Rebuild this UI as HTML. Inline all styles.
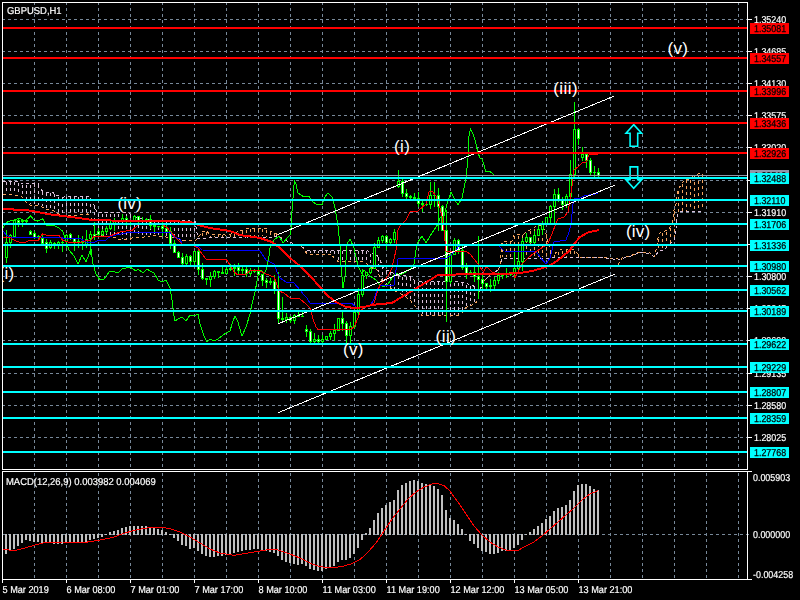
<!DOCTYPE html>
<html><head><meta charset="utf-8"><title>GBPUSD,H1</title>
<style>
html,body{margin:0;padding:0;background:#000;width:800px;height:600px;overflow:hidden}
svg{display:block}
text{font-family:"Liberation Sans",sans-serif;white-space:pre}
</style></head><body>
<svg width="800" height="600" viewBox="0 0 800 600">
<rect x="0" y="0" width="800" height="600" fill="#000"/>
<defs><clipPath id="cm"><rect x="3" y="3" width="744" height="466"/></clipPath></defs>
<g stroke="#778899" stroke-width="1" stroke-dasharray="3 3" shape-rendering="crispEdges">
<line x1="34.5" y1="2" x2="34.5" y2="469"/>
<line x1="34.5" y1="473" x2="34.5" y2="579"/>
<line x1="66.5" y1="2" x2="66.5" y2="469"/>
<line x1="66.5" y1="473" x2="66.5" y2="579"/>
<line x1="98.5" y1="2" x2="98.5" y2="469"/>
<line x1="98.5" y1="473" x2="98.5" y2="579"/>
<line x1="130.5" y1="2" x2="130.5" y2="469"/>
<line x1="130.5" y1="473" x2="130.5" y2="579"/>
<line x1="162.5" y1="2" x2="162.5" y2="469"/>
<line x1="162.5" y1="473" x2="162.5" y2="579"/>
<line x1="194.5" y1="2" x2="194.5" y2="469"/>
<line x1="194.5" y1="473" x2="194.5" y2="579"/>
<line x1="226.5" y1="2" x2="226.5" y2="469"/>
<line x1="226.5" y1="473" x2="226.5" y2="579"/>
<line x1="258.5" y1="2" x2="258.5" y2="469"/>
<line x1="258.5" y1="473" x2="258.5" y2="579"/>
<line x1="290.5" y1="2" x2="290.5" y2="469"/>
<line x1="290.5" y1="473" x2="290.5" y2="579"/>
<line x1="322.5" y1="2" x2="322.5" y2="469"/>
<line x1="322.5" y1="473" x2="322.5" y2="579"/>
<line x1="354.5" y1="2" x2="354.5" y2="469"/>
<line x1="354.5" y1="473" x2="354.5" y2="579"/>
<line x1="386.5" y1="2" x2="386.5" y2="469"/>
<line x1="386.5" y1="473" x2="386.5" y2="579"/>
<line x1="418.5" y1="2" x2="418.5" y2="469"/>
<line x1="418.5" y1="473" x2="418.5" y2="579"/>
<line x1="450.5" y1="2" x2="450.5" y2="469"/>
<line x1="450.5" y1="473" x2="450.5" y2="579"/>
<line x1="482.5" y1="2" x2="482.5" y2="469"/>
<line x1="482.5" y1="473" x2="482.5" y2="579"/>
<line x1="514.5" y1="2" x2="514.5" y2="469"/>
<line x1="514.5" y1="473" x2="514.5" y2="579"/>
<line x1="546.5" y1="2" x2="546.5" y2="469"/>
<line x1="546.5" y1="473" x2="546.5" y2="579"/>
<line x1="578.5" y1="2" x2="578.5" y2="469"/>
<line x1="578.5" y1="473" x2="578.5" y2="579"/>
<line x1="610.5" y1="2" x2="610.5" y2="469"/>
<line x1="610.5" y1="473" x2="610.5" y2="579"/>
<line x1="642.5" y1="2" x2="642.5" y2="469"/>
<line x1="642.5" y1="473" x2="642.5" y2="579"/>
<line x1="674.5" y1="2" x2="674.5" y2="469"/>
<line x1="674.5" y1="473" x2="674.5" y2="579"/>
<line x1="706.5" y1="2" x2="706.5" y2="469"/>
<line x1="706.5" y1="473" x2="706.5" y2="579"/>
<line x1="738.5" y1="2" x2="738.5" y2="469"/>
<line x1="738.5" y1="473" x2="738.5" y2="579"/>
<line x1="2" y1="19.5" x2="750" y2="19.5"/>
<line x1="2" y1="51.5" x2="750" y2="51.5"/>
<line x1="2" y1="83.5" x2="750" y2="83.5"/>
<line x1="2" y1="115.5" x2="750" y2="115.5"/>
<line x1="2" y1="147.5" x2="750" y2="147.5"/>
<line x1="2" y1="180.5" x2="750" y2="180.5"/>
<line x1="2" y1="212.5" x2="750" y2="212.5"/>
<line x1="2" y1="244.5" x2="750" y2="244.5"/>
<line x1="2" y1="276.5" x2="750" y2="276.5"/>
<line x1="2" y1="308.5" x2="750" y2="308.5"/>
<line x1="2" y1="340.5" x2="750" y2="340.5"/>
<line x1="2" y1="373.5" x2="750" y2="373.5"/>
<line x1="2" y1="405.5" x2="750" y2="405.5"/>
<line x1="2" y1="437.5" x2="750" y2="437.5"/>
<line x1="2" y1="534.5" x2="750" y2="534.5"/>
</g>
<g stroke-width="1" stroke-dasharray="3 3" shape-rendering="crispEdges">
<line x1="6.5" y1="182.0" x2="6.5" y2="193.4" stroke="#d8bfd8"/>
<line x1="10.5" y1="182.0" x2="10.5" y2="193.4" stroke="#d8bfd8"/>
<line x1="14.5" y1="182.0" x2="14.5" y2="194.1" stroke="#d8bfd8"/>
<line x1="18.5" y1="182.5" x2="18.5" y2="194.8" stroke="#d8bfd8"/>
<line x1="22.5" y1="184.7" x2="22.5" y2="195.7" stroke="#d8bfd8"/>
<line x1="26.5" y1="184.7" x2="26.5" y2="201.1" stroke="#d8bfd8"/>
<line x1="30.5" y1="184.5" x2="30.5" y2="203.9" stroke="#d8bfd8"/>
<line x1="34.5" y1="184.3" x2="34.5" y2="204.4" stroke="#d8bfd8"/>
<line x1="38.5" y1="184.9" x2="38.5" y2="204.6" stroke="#d8bfd8"/>
<line x1="42.5" y1="191.5" x2="42.5" y2="206.0" stroke="#d8bfd8"/>
<line x1="46.5" y1="193.1" x2="46.5" y2="208.1" stroke="#d8bfd8"/>
<line x1="50.5" y1="193.2" x2="50.5" y2="209.2" stroke="#d8bfd8"/>
<line x1="54.5" y1="194.3" x2="54.5" y2="210.0" stroke="#d8bfd8"/>
<line x1="58.5" y1="196.8" x2="58.5" y2="212.7" stroke="#d8bfd8"/>
<line x1="62.5" y1="198.2" x2="62.5" y2="214.8" stroke="#d8bfd8"/>
<line x1="66.5" y1="197.3" x2="66.5" y2="214.9" stroke="#d8bfd8"/>
<line x1="70.5" y1="197.2" x2="70.5" y2="214.8" stroke="#d8bfd8"/>
<line x1="74.5" y1="197.2" x2="74.5" y2="214.6" stroke="#d8bfd8"/>
<line x1="78.5" y1="197.2" x2="78.5" y2="214.2" stroke="#d8bfd8"/>
<line x1="82.5" y1="197.2" x2="82.5" y2="213.7" stroke="#d8bfd8"/>
<line x1="86.5" y1="197.2" x2="86.5" y2="213.2" stroke="#d8bfd8"/>
<line x1="90.5" y1="198.3" x2="90.5" y2="216.0" stroke="#d8bfd8"/>
<line x1="94.5" y1="206.0" x2="94.5" y2="224.5" stroke="#d8bfd8"/>
<line x1="98.5" y1="213.8" x2="98.5" y2="234.0" stroke="#d8bfd8"/>
<line x1="102.5" y1="213.8" x2="102.5" y2="234.6" stroke="#d8bfd8"/>
<line x1="106.5" y1="213.8" x2="106.5" y2="235.2" stroke="#d8bfd8"/>
<line x1="110.5" y1="213.8" x2="110.5" y2="235.8" stroke="#d8bfd8"/>
<line x1="114.5" y1="213.8" x2="114.5" y2="236.4" stroke="#d8bfd8"/>
<line x1="118.5" y1="213.8" x2="118.5" y2="237.8" stroke="#d8bfd8"/>
<line x1="122.5" y1="213.8" x2="122.5" y2="238.8" stroke="#d8bfd8"/>
<line x1="126.5" y1="213.8" x2="126.5" y2="238.8" stroke="#d8bfd8"/>
<line x1="130.5" y1="215.2" x2="130.5" y2="238.4" stroke="#d8bfd8"/>
<line x1="134.5" y1="218.0" x2="134.5" y2="236.4" stroke="#d8bfd8"/>
<line x1="138.5" y1="218.8" x2="138.5" y2="236.2" stroke="#d8bfd8"/>
<line x1="142.5" y1="219.5" x2="142.5" y2="236.1" stroke="#d8bfd8"/>
<line x1="146.5" y1="220.2" x2="146.5" y2="235.9" stroke="#d8bfd8"/>
<line x1="150.5" y1="221.0" x2="150.5" y2="235.2" stroke="#d8bfd8"/>
<line x1="154.5" y1="221.1" x2="154.5" y2="234.3" stroke="#d8bfd8"/>
<line x1="158.5" y1="221.2" x2="158.5" y2="234.9" stroke="#d8bfd8"/>
<line x1="162.5" y1="221.3" x2="162.5" y2="235.5" stroke="#d8bfd8"/>
<line x1="166.5" y1="221.4" x2="166.5" y2="236.0" stroke="#d8bfd8"/>
<line x1="170.5" y1="221.5" x2="170.5" y2="236.4" stroke="#d8bfd8"/>
<line x1="174.5" y1="221.6" x2="174.5" y2="236.8" stroke="#d8bfd8"/>
<line x1="178.5" y1="221.7" x2="178.5" y2="237.6" stroke="#d8bfd8"/>
<line x1="182.5" y1="221.8" x2="182.5" y2="238.9" stroke="#d8bfd8"/>
<line x1="186.5" y1="221.9" x2="186.5" y2="239.8" stroke="#d8bfd8"/>
<line x1="190.5" y1="222.0" x2="190.5" y2="239.8" stroke="#d8bfd8"/>
<line x1="194.5" y1="222.0" x2="194.5" y2="239.8" stroke="#d8bfd8"/>
<line x1="202.5" y1="232.8" x2="202.5" y2="237.5" stroke="#f4a460"/>
<line x1="206.5" y1="232.0" x2="206.5" y2="237.5" stroke="#f4a460"/>
<line x1="210.5" y1="236.0" x2="210.5" y2="236.8" stroke="#f4a460"/>
<line x1="214.5" y1="235.7" x2="214.5" y2="236.8" stroke="#f4a460"/>
<line x1="218.5" y1="235.3" x2="218.5" y2="236.8" stroke="#f4a460"/>
<line x1="222.5" y1="235.0" x2="222.5" y2="236.8" stroke="#f4a460"/>
<line x1="230.5" y1="235.3" x2="230.5" y2="236.7" stroke="#f4a460"/>
<line x1="234.5" y1="234.0" x2="234.5" y2="236.5" stroke="#f4a460"/>
<line x1="238.5" y1="232.7" x2="238.5" y2="236.3" stroke="#f4a460"/>
<line x1="242.5" y1="231.2" x2="242.5" y2="236.2" stroke="#f4a460"/>
<line x1="246.5" y1="229.8" x2="246.5" y2="236.0" stroke="#f4a460"/>
<line x1="250.5" y1="229.4" x2="250.5" y2="236.1" stroke="#f4a460"/>
<line x1="254.5" y1="229.1" x2="254.5" y2="236.2" stroke="#f4a460"/>
<line x1="258.5" y1="229.2" x2="258.5" y2="236.3" stroke="#f4a460"/>
<line x1="262.5" y1="229.4" x2="262.5" y2="236.4" stroke="#f4a460"/>
<line x1="266.5" y1="229.7" x2="266.5" y2="236.5" stroke="#f4a460"/>
<line x1="270.5" y1="232.0" x2="270.5" y2="236.6" stroke="#f4a460"/>
<line x1="274.5" y1="233.3" x2="274.5" y2="236.2" stroke="#f4a460"/>
<line x1="306.5" y1="250.6" x2="306.5" y2="251.5" stroke="#d8bfd8"/>
<line x1="310.5" y1="251.2" x2="310.5" y2="253.0" stroke="#d8bfd8"/>
<line x1="314.5" y1="251.2" x2="314.5" y2="253.0" stroke="#d8bfd8"/>
<line x1="318.5" y1="251.2" x2="318.5" y2="253.0" stroke="#d8bfd8"/>
<line x1="322.5" y1="251.2" x2="322.5" y2="253.0" stroke="#d8bfd8"/>
<line x1="326.5" y1="251.2" x2="326.5" y2="253.0" stroke="#d8bfd8"/>
<line x1="330.5" y1="251.2" x2="330.5" y2="253.0" stroke="#d8bfd8"/>
<line x1="334.5" y1="251.2" x2="334.5" y2="256.8" stroke="#d8bfd8"/>
<line x1="338.5" y1="251.2" x2="338.5" y2="260.5" stroke="#d8bfd8"/>
<line x1="342.5" y1="251.2" x2="342.5" y2="260.9" stroke="#d8bfd8"/>
<line x1="346.5" y1="251.2" x2="346.5" y2="260.9" stroke="#d8bfd8"/>
<line x1="350.5" y1="251.2" x2="350.5" y2="260.8" stroke="#d8bfd8"/>
<line x1="354.5" y1="251.2" x2="354.5" y2="260.7" stroke="#d8bfd8"/>
<line x1="358.5" y1="251.2" x2="358.5" y2="260.6" stroke="#d8bfd8"/>
<line x1="362.5" y1="251.2" x2="362.5" y2="260.5" stroke="#d8bfd8"/>
<line x1="366.5" y1="251.2" x2="366.5" y2="262.0" stroke="#d8bfd8"/>
<line x1="370.5" y1="254.0" x2="370.5" y2="265.2" stroke="#d8bfd8"/>
<line x1="374.5" y1="254.7" x2="374.5" y2="267.6" stroke="#d8bfd8"/>
<line x1="378.5" y1="258.0" x2="378.5" y2="271.7" stroke="#d8bfd8"/>
<line x1="382.5" y1="265.5" x2="382.5" y2="280.0" stroke="#d8bfd8"/>
<line x1="386.5" y1="271.2" x2="386.5" y2="284.2" stroke="#d8bfd8"/>
<line x1="390.5" y1="272.2" x2="390.5" y2="286.7" stroke="#d8bfd8"/>
<line x1="394.5" y1="274.8" x2="394.5" y2="289.2" stroke="#d8bfd8"/>
<line x1="398.5" y1="276.2" x2="398.5" y2="291.5" stroke="#d8bfd8"/>
<line x1="402.5" y1="276.5" x2="402.5" y2="293.5" stroke="#d8bfd8"/>
<line x1="406.5" y1="276.9" x2="406.5" y2="296.0" stroke="#d8bfd8"/>
<line x1="410.5" y1="277.8" x2="410.5" y2="299.0" stroke="#d8bfd8"/>
<line x1="414.5" y1="280.8" x2="414.5" y2="303.8" stroke="#d8bfd8"/>
<line x1="418.5" y1="282.0" x2="418.5" y2="310.1" stroke="#d8bfd8"/>
<line x1="422.5" y1="282.1" x2="422.5" y2="314.3" stroke="#d8bfd8"/>
<line x1="426.5" y1="282.2" x2="426.5" y2="314.8" stroke="#d8bfd8"/>
<line x1="430.5" y1="282.2" x2="430.5" y2="314.8" stroke="#d8bfd8"/>
<line x1="434.5" y1="282.3" x2="434.5" y2="314.8" stroke="#d8bfd8"/>
<line x1="438.5" y1="282.4" x2="438.5" y2="314.8" stroke="#d8bfd8"/>
<line x1="442.5" y1="282.4" x2="442.5" y2="314.8" stroke="#d8bfd8"/>
<line x1="446.5" y1="282.5" x2="446.5" y2="314.8" stroke="#d8bfd8"/>
<line x1="450.5" y1="282.5" x2="450.5" y2="314.8" stroke="#d8bfd8"/>
<line x1="454.5" y1="282.6" x2="454.5" y2="314.8" stroke="#d8bfd8"/>
<line x1="458.5" y1="282.7" x2="458.5" y2="314.2" stroke="#d8bfd8"/>
<line x1="462.5" y1="283.3" x2="462.5" y2="311.8" stroke="#d8bfd8"/>
<line x1="466.5" y1="284.5" x2="466.5" y2="306.5" stroke="#d8bfd8"/>
<line x1="470.5" y1="285.5" x2="470.5" y2="304.9" stroke="#d8bfd8"/>
<line x1="474.5" y1="287.3" x2="474.5" y2="303.1" stroke="#d8bfd8"/>
<line x1="478.5" y1="291.8" x2="478.5" y2="296.2" stroke="#d8bfd8"/>
<line x1="502.5" y1="243.0" x2="502.5" y2="257.0" stroke="#f4a460"/>
<line x1="506.5" y1="242.6" x2="506.5" y2="257.0" stroke="#f4a460"/>
<line x1="510.5" y1="242.2" x2="510.5" y2="257.0" stroke="#f4a460"/>
<line x1="514.5" y1="236.0" x2="514.5" y2="257.0" stroke="#f4a460"/>
<line x1="518.5" y1="235.6" x2="518.5" y2="257.0" stroke="#f4a460"/>
<line x1="522.5" y1="235.2" x2="522.5" y2="257.0" stroke="#f4a460"/>
<line x1="526.5" y1="233.5" x2="526.5" y2="257.0" stroke="#f4a460"/>
<line x1="530.5" y1="231.0" x2="530.5" y2="257.0" stroke="#f4a460"/>
<line x1="534.5" y1="229.0" x2="534.5" y2="257.0" stroke="#f4a460"/>
<line x1="538.5" y1="226.0" x2="538.5" y2="257.0" stroke="#f4a460"/>
<line x1="542.5" y1="226.0" x2="542.5" y2="257.0" stroke="#f4a460"/>
<line x1="546.5" y1="235.0" x2="546.5" y2="257.0" stroke="#f4a460"/>
<line x1="550.5" y1="251.0" x2="550.5" y2="257.0" stroke="#f4a460"/>
<line x1="554.5" y1="255.0" x2="554.5" y2="256.9" stroke="#f4a460"/>
<line x1="558.5" y1="252.3" x2="558.5" y2="256.9" stroke="#f4a460"/>
<line x1="562.5" y1="250.7" x2="562.5" y2="256.8" stroke="#f4a460"/>
<line x1="566.5" y1="250.0" x2="566.5" y2="256.7" stroke="#f4a460"/>
<line x1="570.5" y1="250.5" x2="570.5" y2="256.7" stroke="#f4a460"/>
<line x1="574.5" y1="251.0" x2="574.5" y2="256.6" stroke="#f4a460"/>
<line x1="578.5" y1="255.0" x2="578.5" y2="256.5" stroke="#f4a460"/>
<line x1="658.5" y1="239.0" x2="658.5" y2="251.3" stroke="#f4a460"/>
<line x1="662.5" y1="233.2" x2="662.5" y2="249.0" stroke="#f4a460"/>
<line x1="666.5" y1="231.8" x2="666.5" y2="247.0" stroke="#f4a460"/>
<line x1="670.5" y1="228.0" x2="670.5" y2="243.0" stroke="#f4a460"/>
<line x1="674.5" y1="211.0" x2="674.5" y2="239.0" stroke="#f4a460"/>
<line x1="678.5" y1="191.0" x2="678.5" y2="212.8" stroke="#f4a460"/>
<line x1="682.5" y1="184.0" x2="682.5" y2="210.7" stroke="#f4a460"/>
<line x1="686.5" y1="180.0" x2="686.5" y2="210.6" stroke="#f4a460"/>
<line x1="690.5" y1="180.0" x2="690.5" y2="210.4" stroke="#f4a460"/>
<line x1="694.5" y1="176.0" x2="694.5" y2="210.3" stroke="#f4a460"/>
<line x1="698.5" y1="175.0" x2="698.5" y2="210.1" stroke="#f4a460"/>
<line x1="702.5" y1="174.0" x2="702.5" y2="210.0" stroke="#f4a460"/>
</g>
<polyline points="3.0,194.4 9.8,194.4 15.8,195.4 21.8,196.4 25.9,202.0 30.8,205.4 37.5,205.4 42.8,207.2 45.0,208.8 48.8,209.9 55.0,211.2 56.5,212.4 59.5,215.0 62.5,216.0 75.0,215.6 87.5,214.0 92.5,220.0 94.0,225.5 95.0,234.5 114.5,237.5 120.5,239.8 129.5,239.8 132.5,237.5 149.0,236.8 152.0,235.0 164.0,236.8 176.0,238.0 184.5,240.8 195.0,240.8 198.0,237.8 202.5,231.0 207.0,231.0 210.0,235.0 222.0,234.0 226.5,235.5 240.0,231.0 246.0,228.8 255.0,228.0 267.0,228.8 270.0,231.0 274.5,232.5 277.5,234.8 282.0,238.5 288.0,241.5 292.0,243.0 302.5,247.2 307.0,254.0 331.0,254.0 334.0,257.8 338.5,262.0 364.0,261.5 367.0,263.8 371.5,267.5 377.0,270.0 380.0,278.0 384.0,284.0 397.0,292.0 404.0,295.5 410.0,300.0 415.0,306.0 419.0,312.8 422.5,315.8 457.0,315.8 461.5,313.5 466.0,307.5 473.5,304.5 477.0,301.5 479.0,293.0 484.0,281.0 490.0,275.0 498.0,270.0 500.0,266.0 502.0,242.0 512.0,241.0 514.0,235.0 524.0,234.0 528.0,231.0 534.0,228.0 538.0,225.0 542.0,225.0 546.0,234.0 548.0,242.0 550.0,250.0 554.0,254.0 560.0,250.0 566.0,249.0 574.0,250.0 578.0,254.0 580.0,257.0 602.0,257.0 608.0,258.0 618.0,259.0 618.5,264.0 622.0,258.0 630.0,256.0 640.0,252.0 650.0,253.0 654.0,257.0 656.0,250.0 658.0,238.0 660.0,233.0 668.0,230.0 672.0,224.0 674.0,210.0 676.0,204.0 678.0,190.0 682.0,183.0 686.0,179.0 690.0,179.0 694.0,175.0 698.0,174.0 702.0,173.0" fill="none" stroke="#f4a460" stroke-width="1" shape-rendering="crispEdges" stroke-dasharray="3 3"/>
<polyline points="3.0,181.0 17.0,181.0 20.0,182.5 22.5,184.0 27.0,183.6 34.5,183.2 38.6,184.0 39.0,186.0 41.6,190.0 42.4,191.0 46.5,192.2 52.5,192.2 57.2,195.5 62.5,197.4 66.2,196.2 89.5,196.2 91.8,201.0 94.0,205.0 97.0,212.8 128.0,212.8 134.0,217.0 150.0,220.0 190.0,221.0 195.0,221.0 198.0,238.5 207.0,238.5 210.0,237.8 228.0,237.8 246.0,237.0 267.0,237.5 273.0,237.8 277.5,235.5 282.0,238.5 288.0,241.5 292.0,243.0 302.5,247.2 307.0,250.2 367.0,250.2 370.0,253.0 376.0,254.0 379.0,258.5 382.0,264.5 385.0,270.0 391.0,271.5 395.5,275.0 407.5,276.0 412.0,277.5 415.0,281.0 460.0,281.7 466.0,283.5 472.0,285.0 475.0,287.0 479.0,292.0 484.0,281.0 490.0,275.0 498.0,270.0 500.0,266.0 502.0,258.0 520.0,258.0 550.0,258.0 580.0,257.5 602.0,257.5 608.0,258.5 618.0,259.5 622.0,258.5 630.0,256.5 640.0,252.5 650.0,253.5 654.0,257.0 660.0,250.0 664.0,250.0 670.0,244.0 674.0,240.0 676.0,228.0 677.0,217.0 678.6,211.8 702.4,211.0" fill="none" stroke="#d8bfd8" stroke-width="1" shape-rendering="crispEdges" stroke-dasharray="3 3"/>
<g shape-rendering="crispEdges">
<rect x="6" y="230" width="1" height="33" fill="#00ff00"/>
<rect x="5" y="242" width="3" height="16" fill="#00ff00"/>
<rect x="6" y="243" width="1" height="14" fill="#000"/>
<rect x="10" y="234" width="1" height="14" fill="#00ff00"/>
<rect x="9" y="235" width="3" height="8" fill="#00ff00"/>
<rect x="10" y="236" width="1" height="6" fill="#000"/>
<rect x="14" y="219" width="1" height="18" fill="#00ff00"/>
<rect x="13" y="220" width="3" height="17" fill="#00ff00"/>
<rect x="14" y="221" width="1" height="15" fill="#000"/>
<rect x="18" y="218" width="1" height="9" fill="#00ff00"/>
<rect x="17" y="220" width="3" height="3" fill="#00ff00"/>
<rect x="18" y="221" width="1" height="1" fill="#fff"/>
<rect x="22" y="219" width="1" height="8" fill="#00ff00"/>
<rect x="21" y="220" width="3" height="2" fill="#00ff00"/>
<rect x="26" y="219" width="1" height="4" fill="#00ff00"/>
<rect x="25" y="220" width="3" height="2" fill="#00ff00"/>
<rect x="30" y="230" width="1" height="5" fill="#00ff00"/>
<rect x="29" y="231" width="3" height="4" fill="#00ff00"/>
<rect x="30" y="232" width="1" height="2" fill="#fff"/>
<rect x="34" y="231" width="1" height="8" fill="#00ff00"/>
<rect x="33" y="233" width="3" height="5" fill="#00ff00"/>
<rect x="34" y="234" width="1" height="3" fill="#fff"/>
<rect x="38" y="235" width="1" height="4" fill="#00ff00"/>
<rect x="37" y="236" width="3" height="2" fill="#00ff00"/>
<rect x="42" y="234" width="1" height="11" fill="#00ff00"/>
<rect x="41" y="238" width="3" height="6" fill="#00ff00"/>
<rect x="42" y="239" width="1" height="4" fill="#fff"/>
<rect x="46" y="239" width="1" height="14" fill="#00ff00"/>
<rect x="45" y="242" width="3" height="7" fill="#00ff00"/>
<rect x="46" y="243" width="1" height="5" fill="#fff"/>
<rect x="50" y="240" width="1" height="9" fill="#00ff00"/>
<rect x="49" y="242" width="3" height="6" fill="#00ff00"/>
<rect x="50" y="243" width="1" height="4" fill="#000"/>
<rect x="54" y="242" width="1" height="7" fill="#00ff00"/>
<rect x="53" y="243" width="3" height="2" fill="#00ff00"/>
<rect x="58" y="241" width="1" height="8" fill="#00ff00"/>
<rect x="57" y="242" width="3" height="3" fill="#00ff00"/>
<rect x="58" y="243" width="1" height="1" fill="#000"/>
<rect x="62" y="239" width="1" height="13" fill="#00ff00"/>
<rect x="61" y="242" width="3" height="1" fill="#00ff00"/>
<rect x="66" y="234" width="1" height="14" fill="#00ff00"/>
<rect x="65" y="235" width="3" height="7" fill="#00ff00"/>
<rect x="66" y="236" width="1" height="5" fill="#000"/>
<rect x="70" y="233" width="1" height="7" fill="#00ff00"/>
<rect x="69" y="234" width="3" height="5" fill="#00ff00"/>
<rect x="70" y="235" width="1" height="3" fill="#fff"/>
<rect x="74" y="238" width="1" height="13" fill="#00ff00"/>
<rect x="73" y="238" width="3" height="4" fill="#00ff00"/>
<rect x="74" y="239" width="1" height="2" fill="#fff"/>
<rect x="78" y="235" width="1" height="13" fill="#00ff00"/>
<rect x="77" y="241" width="3" height="2" fill="#00ff00"/>
<rect x="82" y="236" width="1" height="14" fill="#00ff00"/>
<rect x="81" y="241" width="3" height="2" fill="#00ff00"/>
<rect x="86" y="230" width="1" height="18" fill="#00ff00"/>
<rect x="85" y="239" width="3" height="6" fill="#00ff00"/>
<rect x="86" y="240" width="1" height="4" fill="#000"/>
<rect x="90" y="231" width="1" height="24" fill="#00ff00"/>
<rect x="89" y="234" width="3" height="5" fill="#00ff00"/>
<rect x="90" y="235" width="1" height="3" fill="#000"/>
<rect x="94" y="222" width="1" height="18" fill="#00ff00"/>
<rect x="93" y="234" width="3" height="3" fill="#00ff00"/>
<rect x="94" y="235" width="1" height="1" fill="#fff"/>
<rect x="98" y="228" width="1" height="9" fill="#00ff00"/>
<rect x="97" y="231" width="3" height="4" fill="#00ff00"/>
<rect x="98" y="232" width="1" height="2" fill="#fff"/>
<rect x="102" y="229" width="1" height="8" fill="#00ff00"/>
<rect x="101" y="231" width="3" height="4" fill="#00ff00"/>
<rect x="102" y="232" width="1" height="2" fill="#000"/>
<rect x="106" y="226" width="1" height="8" fill="#00ff00"/>
<rect x="105" y="228" width="3" height="4" fill="#00ff00"/>
<rect x="106" y="229" width="1" height="2" fill="#000"/>
<rect x="110" y="221" width="1" height="9" fill="#00ff00"/>
<rect x="109" y="223" width="3" height="6" fill="#00ff00"/>
<rect x="110" y="224" width="1" height="4" fill="#000"/>
<rect x="114" y="218" width="1" height="13" fill="#00ff00"/>
<rect x="113" y="221" width="3" height="3" fill="#00ff00"/>
<rect x="114" y="222" width="1" height="1" fill="#000"/>
<rect x="118" y="221" width="1" height="1" fill="#00ff00"/>
<rect x="117" y="221" width="3" height="1" fill="#00ff00"/>
<rect x="122" y="214" width="1" height="8" fill="#00ff00"/>
<rect x="121" y="218" width="3" height="4" fill="#00ff00"/>
<rect x="122" y="219" width="1" height="2" fill="#000"/>
<rect x="126" y="216" width="1" height="10" fill="#00ff00"/>
<rect x="125" y="218" width="3" height="3" fill="#00ff00"/>
<rect x="126" y="219" width="1" height="1" fill="#fff"/>
<rect x="130" y="220" width="1" height="6" fill="#00ff00"/>
<rect x="129" y="220" width="3" height="1" fill="#00ff00"/>
<rect x="134" y="215" width="1" height="6" fill="#00ff00"/>
<rect x="133" y="216" width="3" height="5" fill="#00ff00"/>
<rect x="134" y="217" width="1" height="3" fill="#000"/>
<rect x="138" y="216" width="1" height="8" fill="#00ff00"/>
<rect x="137" y="216" width="3" height="5" fill="#00ff00"/>
<rect x="138" y="217" width="1" height="3" fill="#fff"/>
<rect x="142" y="217" width="1" height="5" fill="#00ff00"/>
<rect x="141" y="220" width="3" height="2" fill="#00ff00"/>
<rect x="146" y="218" width="1" height="4" fill="#00ff00"/>
<rect x="145" y="219" width="3" height="3" fill="#00ff00"/>
<rect x="146" y="220" width="1" height="1" fill="#000"/>
<rect x="150" y="215" width="1" height="14" fill="#00ff00"/>
<rect x="149" y="219" width="3" height="7" fill="#00ff00"/>
<rect x="150" y="220" width="1" height="5" fill="#fff"/>
<rect x="154" y="225" width="1" height="7" fill="#00ff00"/>
<rect x="153" y="225" width="3" height="2" fill="#00ff00"/>
<rect x="158" y="226" width="1" height="2" fill="#00ff00"/>
<rect x="157" y="226" width="3" height="1" fill="#00ff00"/>
<rect x="162" y="220" width="1" height="16" fill="#00ff00"/>
<rect x="161" y="226" width="3" height="3" fill="#00ff00"/>
<rect x="162" y="227" width="1" height="1" fill="#fff"/>
<rect x="166" y="224" width="1" height="8" fill="#00ff00"/>
<rect x="165" y="228" width="3" height="4" fill="#00ff00"/>
<rect x="166" y="229" width="1" height="2" fill="#fff"/>
<rect x="170" y="227" width="1" height="22" fill="#00ff00"/>
<rect x="169" y="231" width="3" height="13" fill="#00ff00"/>
<rect x="170" y="232" width="1" height="11" fill="#fff"/>
<rect x="174" y="240" width="1" height="13" fill="#00ff00"/>
<rect x="173" y="243" width="3" height="10" fill="#00ff00"/>
<rect x="174" y="244" width="1" height="8" fill="#fff"/>
<rect x="178" y="251" width="1" height="7" fill="#00ff00"/>
<rect x="177" y="252" width="3" height="6" fill="#00ff00"/>
<rect x="178" y="253" width="1" height="4" fill="#fff"/>
<rect x="182" y="253" width="1" height="12" fill="#00ff00"/>
<rect x="181" y="257" width="3" height="7" fill="#00ff00"/>
<rect x="182" y="258" width="1" height="5" fill="#fff"/>
<rect x="186" y="254" width="1" height="13" fill="#00ff00"/>
<rect x="185" y="256" width="3" height="8" fill="#00ff00"/>
<rect x="186" y="257" width="1" height="6" fill="#000"/>
<rect x="190" y="255" width="1" height="12" fill="#00ff00"/>
<rect x="189" y="256" width="3" height="6" fill="#00ff00"/>
<rect x="190" y="257" width="1" height="4" fill="#fff"/>
<rect x="194" y="251" width="1" height="16" fill="#00ff00"/>
<rect x="193" y="251" width="3" height="11" fill="#00ff00"/>
<rect x="194" y="252" width="1" height="9" fill="#000"/>
<rect x="198" y="249" width="1" height="26" fill="#00ff00"/>
<rect x="197" y="251" width="3" height="19" fill="#00ff00"/>
<rect x="198" y="252" width="1" height="17" fill="#fff"/>
<rect x="202" y="263" width="1" height="17" fill="#00ff00"/>
<rect x="201" y="269" width="3" height="10" fill="#00ff00"/>
<rect x="202" y="270" width="1" height="8" fill="#fff"/>
<rect x="206" y="278" width="1" height="7" fill="#00ff00"/>
<rect x="205" y="278" width="3" height="2" fill="#00ff00"/>
<rect x="210" y="272" width="1" height="15" fill="#00ff00"/>
<rect x="209" y="276" width="3" height="4" fill="#00ff00"/>
<rect x="210" y="277" width="1" height="2" fill="#000"/>
<rect x="214" y="270" width="1" height="9" fill="#00ff00"/>
<rect x="213" y="271" width="3" height="6" fill="#00ff00"/>
<rect x="214" y="272" width="1" height="4" fill="#000"/>
<rect x="218" y="271" width="1" height="7" fill="#00ff00"/>
<rect x="217" y="271" width="3" height="2" fill="#00ff00"/>
<rect x="222" y="266" width="1" height="8" fill="#00ff00"/>
<rect x="221" y="272" width="3" height="2" fill="#00ff00"/>
<rect x="226" y="265" width="1" height="9" fill="#00ff00"/>
<rect x="225" y="269" width="3" height="5" fill="#00ff00"/>
<rect x="226" y="270" width="1" height="3" fill="#000"/>
<rect x="230" y="264" width="1" height="7" fill="#00ff00"/>
<rect x="229" y="268" width="3" height="2" fill="#00ff00"/>
<rect x="234" y="264" width="1" height="12" fill="#00ff00"/>
<rect x="233" y="267" width="3" height="2" fill="#00ff00"/>
<rect x="238" y="263" width="1" height="11" fill="#00ff00"/>
<rect x="237" y="267" width="3" height="4" fill="#00ff00"/>
<rect x="238" y="268" width="1" height="2" fill="#fff"/>
<rect x="242" y="267" width="1" height="7" fill="#00ff00"/>
<rect x="241" y="269" width="3" height="2" fill="#00ff00"/>
<rect x="246" y="265" width="1" height="12" fill="#00ff00"/>
<rect x="245" y="269" width="3" height="5" fill="#00ff00"/>
<rect x="246" y="270" width="1" height="3" fill="#fff"/>
<rect x="250" y="268" width="1" height="8" fill="#00ff00"/>
<rect x="249" y="270" width="3" height="4" fill="#00ff00"/>
<rect x="250" y="271" width="1" height="2" fill="#000"/>
<rect x="254" y="269" width="1" height="4" fill="#00ff00"/>
<rect x="253" y="270" width="3" height="2" fill="#00ff00"/>
<rect x="258" y="265" width="1" height="11" fill="#00ff00"/>
<rect x="257" y="271" width="3" height="4" fill="#00ff00"/>
<rect x="258" y="272" width="1" height="2" fill="#fff"/>
<rect x="262" y="274" width="1" height="12" fill="#00ff00"/>
<rect x="261" y="274" width="3" height="7" fill="#00ff00"/>
<rect x="262" y="275" width="1" height="5" fill="#fff"/>
<rect x="266" y="278" width="1" height="10" fill="#00ff00"/>
<rect x="265" y="280" width="3" height="3" fill="#00ff00"/>
<rect x="266" y="281" width="1" height="1" fill="#fff"/>
<rect x="270" y="278" width="1" height="7" fill="#00ff00"/>
<rect x="269" y="281" width="3" height="2" fill="#00ff00"/>
<rect x="274" y="275" width="1" height="19" fill="#00ff00"/>
<rect x="273" y="281" width="3" height="10" fill="#00ff00"/>
<rect x="274" y="282" width="1" height="8" fill="#fff"/>
<rect x="278" y="272" width="1" height="52" fill="#00ff00"/>
<rect x="277" y="290" width="3" height="29" fill="#00ff00"/>
<rect x="278" y="291" width="1" height="27" fill="#fff"/>
<rect x="282" y="297" width="1" height="26" fill="#00ff00"/>
<rect x="281" y="318" width="3" height="2" fill="#00ff00"/>
<rect x="286" y="313" width="1" height="10" fill="#00ff00"/>
<rect x="285" y="317" width="3" height="3" fill="#00ff00"/>
<rect x="286" y="318" width="1" height="1" fill="#000"/>
<rect x="290" y="316" width="1" height="7" fill="#00ff00"/>
<rect x="289" y="317" width="3" height="4" fill="#00ff00"/>
<rect x="290" y="318" width="1" height="2" fill="#fff"/>
<rect x="294" y="314" width="1" height="10" fill="#00ff00"/>
<rect x="293" y="315" width="3" height="6" fill="#00ff00"/>
<rect x="294" y="316" width="1" height="4" fill="#000"/>
<rect x="298" y="312" width="1" height="5" fill="#00ff00"/>
<rect x="297" y="315" width="3" height="2" fill="#00ff00"/>
<rect x="302" y="310" width="1" height="7" fill="#00ff00"/>
<rect x="301" y="316" width="3" height="1" fill="#00ff00"/>
<rect x="306" y="325" width="1" height="12" fill="#00ff00"/>
<rect x="305" y="329" width="3" height="3" fill="#00ff00"/>
<rect x="306" y="330" width="1" height="1" fill="#fff"/>
<rect x="310" y="329" width="1" height="15" fill="#00ff00"/>
<rect x="309" y="331" width="3" height="11" fill="#00ff00"/>
<rect x="310" y="332" width="1" height="9" fill="#fff"/>
<rect x="314" y="333" width="1" height="11" fill="#00ff00"/>
<rect x="313" y="339" width="3" height="3" fill="#00ff00"/>
<rect x="314" y="340" width="1" height="1" fill="#000"/>
<rect x="318" y="335" width="1" height="10" fill="#00ff00"/>
<rect x="317" y="339" width="3" height="3" fill="#00ff00"/>
<rect x="318" y="340" width="1" height="1" fill="#fff"/>
<rect x="322" y="335" width="1" height="10" fill="#00ff00"/>
<rect x="321" y="339" width="3" height="3" fill="#00ff00"/>
<rect x="322" y="340" width="1" height="1" fill="#000"/>
<rect x="326" y="336" width="1" height="4" fill="#00ff00"/>
<rect x="325" y="336" width="3" height="4" fill="#00ff00"/>
<rect x="326" y="337" width="1" height="2" fill="#000"/>
<rect x="330" y="331" width="1" height="9" fill="#00ff00"/>
<rect x="329" y="333" width="3" height="4" fill="#00ff00"/>
<rect x="330" y="334" width="1" height="2" fill="#000"/>
<rect x="334" y="324" width="1" height="17" fill="#00ff00"/>
<rect x="333" y="330" width="3" height="4" fill="#00ff00"/>
<rect x="334" y="331" width="1" height="2" fill="#000"/>
<rect x="338" y="318" width="1" height="13" fill="#00ff00"/>
<rect x="337" y="318" width="3" height="13" fill="#00ff00"/>
<rect x="338" y="319" width="1" height="11" fill="#000"/>
<rect x="342" y="312" width="1" height="19" fill="#00ff00"/>
<rect x="341" y="318" width="3" height="6" fill="#00ff00"/>
<rect x="342" y="319" width="1" height="4" fill="#fff"/>
<rect x="346" y="321" width="1" height="22" fill="#00ff00"/>
<rect x="345" y="323" width="3" height="13" fill="#00ff00"/>
<rect x="346" y="324" width="1" height="11" fill="#fff"/>
<rect x="350" y="322" width="1" height="21" fill="#00ff00"/>
<rect x="349" y="326" width="3" height="10" fill="#00ff00"/>
<rect x="350" y="327" width="1" height="8" fill="#000"/>
<rect x="354" y="309" width="1" height="20" fill="#00ff00"/>
<rect x="353" y="312" width="3" height="15" fill="#00ff00"/>
<rect x="354" y="313" width="1" height="13" fill="#000"/>
<rect x="358" y="288" width="1" height="28" fill="#00ff00"/>
<rect x="357" y="294" width="3" height="19" fill="#00ff00"/>
<rect x="358" y="295" width="1" height="17" fill="#000"/>
<rect x="362" y="269" width="1" height="28" fill="#00ff00"/>
<rect x="361" y="275" width="3" height="20" fill="#00ff00"/>
<rect x="362" y="276" width="1" height="18" fill="#000"/>
<rect x="366" y="272" width="1" height="7" fill="#00ff00"/>
<rect x="365" y="272" width="3" height="4" fill="#00ff00"/>
<rect x="366" y="273" width="1" height="2" fill="#000"/>
<rect x="370" y="266" width="1" height="8" fill="#00ff00"/>
<rect x="369" y="268" width="3" height="5" fill="#00ff00"/>
<rect x="370" y="269" width="1" height="3" fill="#000"/>
<rect x="374" y="243" width="1" height="26" fill="#00ff00"/>
<rect x="373" y="247" width="3" height="22" fill="#00ff00"/>
<rect x="374" y="248" width="1" height="20" fill="#000"/>
<rect x="378" y="237" width="1" height="11" fill="#00ff00"/>
<rect x="377" y="240" width="3" height="8" fill="#00ff00"/>
<rect x="378" y="241" width="1" height="6" fill="#000"/>
<rect x="382" y="235" width="1" height="8" fill="#00ff00"/>
<rect x="381" y="236" width="3" height="5" fill="#00ff00"/>
<rect x="382" y="237" width="1" height="3" fill="#000"/>
<rect x="386" y="235" width="1" height="15" fill="#00ff00"/>
<rect x="385" y="236" width="3" height="7" fill="#00ff00"/>
<rect x="386" y="237" width="1" height="5" fill="#fff"/>
<rect x="390" y="238" width="1" height="8" fill="#00ff00"/>
<rect x="389" y="239" width="3" height="4" fill="#00ff00"/>
<rect x="390" y="240" width="1" height="2" fill="#000"/>
<rect x="394" y="229" width="1" height="14" fill="#00ff00"/>
<rect x="393" y="232" width="3" height="8" fill="#00ff00"/>
<rect x="394" y="233" width="1" height="6" fill="#000"/>
<rect x="398" y="170" width="1" height="18" fill="#00ff00"/>
<rect x="397" y="181" width="3" height="6" fill="#00ff00"/>
<rect x="398" y="182" width="1" height="4" fill="#000"/>
<rect x="402" y="178" width="1" height="19" fill="#00ff00"/>
<rect x="401" y="181" width="3" height="13" fill="#00ff00"/>
<rect x="402" y="182" width="1" height="11" fill="#fff"/>
<rect x="406" y="189" width="1" height="10" fill="#00ff00"/>
<rect x="405" y="193" width="3" height="4" fill="#00ff00"/>
<rect x="406" y="194" width="1" height="2" fill="#fff"/>
<rect x="410" y="195" width="1" height="6" fill="#00ff00"/>
<rect x="409" y="196" width="3" height="2" fill="#00ff00"/>
<rect x="414" y="193" width="1" height="8" fill="#00ff00"/>
<rect x="413" y="197" width="3" height="2" fill="#00ff00"/>
<rect x="418" y="192" width="1" height="15" fill="#00ff00"/>
<rect x="417" y="198" width="3" height="6" fill="#00ff00"/>
<rect x="418" y="199" width="1" height="4" fill="#fff"/>
<rect x="422" y="201" width="1" height="11" fill="#00ff00"/>
<rect x="421" y="203" width="3" height="2" fill="#00ff00"/>
<rect x="426" y="201" width="1" height="5" fill="#00ff00"/>
<rect x="425" y="204" width="3" height="1" fill="#00ff00"/>
<rect x="430" y="182" width="1" height="27" fill="#00ff00"/>
<rect x="429" y="195" width="3" height="10" fill="#00ff00"/>
<rect x="430" y="196" width="1" height="8" fill="#000"/>
<rect x="434" y="182" width="1" height="25" fill="#00ff00"/>
<rect x="433" y="195" width="3" height="1" fill="#00ff00"/>
<rect x="438" y="188" width="1" height="43" fill="#00ff00"/>
<rect x="437" y="195" width="3" height="12" fill="#00ff00"/>
<rect x="438" y="196" width="1" height="10" fill="#fff"/>
<rect x="442" y="205" width="1" height="26" fill="#00ff00"/>
<rect x="441" y="206" width="3" height="25" fill="#00ff00"/>
<rect x="442" y="207" width="1" height="23" fill="#fff"/>
<rect x="446" y="210" width="1" height="112" fill="#00ff00"/>
<rect x="445" y="230" width="3" height="52" fill="#00ff00"/>
<rect x="446" y="231" width="1" height="50" fill="#fff"/>
<rect x="450" y="253" width="1" height="31" fill="#00ff00"/>
<rect x="449" y="254" width="3" height="28" fill="#00ff00"/>
<rect x="450" y="255" width="1" height="26" fill="#000"/>
<rect x="454" y="238" width="1" height="17" fill="#00ff00"/>
<rect x="453" y="240" width="3" height="15" fill="#00ff00"/>
<rect x="454" y="241" width="1" height="13" fill="#000"/>
<rect x="458" y="239" width="1" height="15" fill="#00ff00"/>
<rect x="457" y="240" width="3" height="11" fill="#00ff00"/>
<rect x="458" y="241" width="1" height="9" fill="#fff"/>
<rect x="462" y="246" width="1" height="24" fill="#00ff00"/>
<rect x="461" y="250" width="3" height="18" fill="#00ff00"/>
<rect x="462" y="251" width="1" height="16" fill="#fff"/>
<rect x="466" y="263" width="1" height="16" fill="#00ff00"/>
<rect x="465" y="267" width="3" height="7" fill="#00ff00"/>
<rect x="466" y="268" width="1" height="5" fill="#fff"/>
<rect x="470" y="270" width="1" height="5" fill="#00ff00"/>
<rect x="469" y="272" width="3" height="2" fill="#00ff00"/>
<rect x="474" y="266" width="1" height="16" fill="#00ff00"/>
<rect x="473" y="272" width="3" height="5" fill="#00ff00"/>
<rect x="474" y="273" width="1" height="3" fill="#fff"/>
<rect x="478" y="236" width="1" height="63" fill="#00ff00"/>
<rect x="477" y="276" width="3" height="4" fill="#00ff00"/>
<rect x="478" y="277" width="1" height="2" fill="#fff"/>
<rect x="482" y="273" width="1" height="18" fill="#00ff00"/>
<rect x="481" y="279" width="3" height="5" fill="#00ff00"/>
<rect x="482" y="280" width="1" height="3" fill="#fff"/>
<rect x="486" y="283" width="1" height="7" fill="#00ff00"/>
<rect x="485" y="283" width="3" height="4" fill="#00ff00"/>
<rect x="486" y="284" width="1" height="2" fill="#fff"/>
<rect x="490" y="279" width="1" height="13" fill="#00ff00"/>
<rect x="489" y="285" width="3" height="2" fill="#00ff00"/>
<rect x="494" y="277" width="1" height="12" fill="#00ff00"/>
<rect x="493" y="280" width="3" height="6" fill="#00ff00"/>
<rect x="494" y="281" width="1" height="4" fill="#000"/>
<rect x="498" y="272" width="1" height="12" fill="#00ff00"/>
<rect x="497" y="275" width="3" height="6" fill="#00ff00"/>
<rect x="498" y="276" width="1" height="4" fill="#000"/>
<rect x="502" y="274" width="1" height="5" fill="#00ff00"/>
<rect x="501" y="274" width="3" height="2" fill="#00ff00"/>
<rect x="506" y="268" width="1" height="10" fill="#00ff00"/>
<rect x="505" y="274" width="3" height="1" fill="#00ff00"/>
<rect x="510" y="272" width="1" height="4" fill="#00ff00"/>
<rect x="509" y="272" width="3" height="3" fill="#00ff00"/>
<rect x="510" y="273" width="1" height="1" fill="#000"/>
<rect x="514" y="252" width="1" height="27" fill="#00ff00"/>
<rect x="513" y="268" width="3" height="5" fill="#00ff00"/>
<rect x="514" y="269" width="1" height="3" fill="#000"/>
<rect x="518" y="246" width="1" height="27" fill="#00ff00"/>
<rect x="517" y="261" width="3" height="8" fill="#00ff00"/>
<rect x="518" y="262" width="1" height="6" fill="#000"/>
<rect x="522" y="238" width="1" height="33" fill="#00ff00"/>
<rect x="521" y="241" width="3" height="21" fill="#00ff00"/>
<rect x="522" y="242" width="1" height="19" fill="#000"/>
<rect x="526" y="233" width="1" height="9" fill="#00ff00"/>
<rect x="525" y="237" width="3" height="5" fill="#00ff00"/>
<rect x="526" y="238" width="1" height="3" fill="#000"/>
<rect x="530" y="237" width="1" height="6" fill="#00ff00"/>
<rect x="529" y="237" width="3" height="6" fill="#00ff00"/>
<rect x="530" y="238" width="1" height="4" fill="#fff"/>
<rect x="534" y="231" width="1" height="13" fill="#00ff00"/>
<rect x="533" y="235" width="3" height="8" fill="#00ff00"/>
<rect x="534" y="236" width="1" height="6" fill="#000"/>
<rect x="538" y="225" width="1" height="11" fill="#00ff00"/>
<rect x="537" y="229" width="3" height="7" fill="#00ff00"/>
<rect x="538" y="230" width="1" height="5" fill="#000"/>
<rect x="542" y="221" width="1" height="14" fill="#00ff00"/>
<rect x="541" y="223" width="3" height="7" fill="#00ff00"/>
<rect x="542" y="224" width="1" height="5" fill="#000"/>
<rect x="546" y="217" width="1" height="7" fill="#00ff00"/>
<rect x="545" y="217" width="3" height="7" fill="#00ff00"/>
<rect x="546" y="218" width="1" height="5" fill="#000"/>
<rect x="550" y="205" width="1" height="18" fill="#00ff00"/>
<rect x="549" y="206" width="3" height="12" fill="#00ff00"/>
<rect x="550" y="207" width="1" height="10" fill="#000"/>
<rect x="554" y="189" width="1" height="34" fill="#00ff00"/>
<rect x="553" y="194" width="3" height="13" fill="#00ff00"/>
<rect x="554" y="195" width="1" height="11" fill="#000"/>
<rect x="558" y="188" width="1" height="14" fill="#00ff00"/>
<rect x="557" y="194" width="3" height="6" fill="#00ff00"/>
<rect x="558" y="195" width="1" height="4" fill="#fff"/>
<rect x="562" y="197" width="1" height="13" fill="#00ff00"/>
<rect x="561" y="199" width="3" height="6" fill="#00ff00"/>
<rect x="562" y="200" width="1" height="4" fill="#fff"/>
<rect x="566" y="194" width="1" height="14" fill="#00ff00"/>
<rect x="565" y="196" width="3" height="9" fill="#00ff00"/>
<rect x="566" y="197" width="1" height="7" fill="#000"/>
<rect x="570" y="160" width="1" height="37" fill="#00ff00"/>
<rect x="569" y="174" width="3" height="23" fill="#00ff00"/>
<rect x="570" y="175" width="1" height="21" fill="#000"/>
<rect x="574" y="102" width="1" height="76" fill="#00ff00"/>
<rect x="573" y="129" width="3" height="46" fill="#00ff00"/>
<rect x="574" y="130" width="1" height="44" fill="#000"/>
<rect x="578" y="128" width="1" height="17" fill="#00ff00"/>
<rect x="577" y="129" width="3" height="10" fill="#00ff00"/>
<rect x="578" y="130" width="1" height="8" fill="#fff"/>
<rect x="582" y="147" width="1" height="14" fill="#00ff00"/>
<rect x="581" y="154" width="3" height="4" fill="#00ff00"/>
<rect x="582" y="155" width="1" height="2" fill="#000"/>
<rect x="586" y="154" width="1" height="14" fill="#00ff00"/>
<rect x="585" y="154" width="3" height="7" fill="#00ff00"/>
<rect x="586" y="155" width="1" height="5" fill="#fff"/>
<rect x="590" y="158" width="1" height="18" fill="#00ff00"/>
<rect x="589" y="160" width="3" height="13" fill="#00ff00"/>
<rect x="590" y="161" width="1" height="11" fill="#fff"/>
<rect x="594" y="166" width="1" height="11" fill="#00ff00"/>
<rect x="593" y="172" width="3" height="1" fill="#00ff00"/>
<rect x="598" y="168" width="1" height="10" fill="#00ff00"/>
<rect x="597" y="172" width="3" height="4" fill="#00ff00"/>
<rect x="598" y="173" width="1" height="2" fill="#fff"/>
</g>
<polyline points="3.0,227.5 5.0,225.0 7.5,222.0 10.6,220.6 13.8,221.0 18.8,218.0 25.0,221.0 30.6,216.0 34.0,220.0 37.5,221.0 42.5,218.8 44.0,221.0 46.0,225.0 50.0,226.0 54.0,225.6 58.8,228.0 62.5,231.0 65.0,237.5 66.0,242.0 69.0,250.0 74.0,256.0 78.0,264.0 82.0,255.0 86.0,262.0 91.0,249.0 93.0,264.0 96.0,274.0 100.0,280.0 104.0,279.0 110.0,271.0 115.0,272.0 118.0,273.0 122.0,269.0 130.0,267.0 136.0,271.0 138.0,269.0 143.0,273.0 147.0,269.0 150.0,271.0 154.0,273.0 158.0,280.0 162.0,282.0 166.0,280.0 170.0,288.0 172.0,300.0 174.0,316.0 175.0,321.0 178.0,319.0 182.0,317.0 186.0,321.0 190.0,315.0 194.0,316.0 198.0,314.0 200.0,324.0 204.0,336.0 207.0,342.0 210.0,339.0 214.0,341.0 218.0,339.0 222.0,336.0 226.0,333.0 230.0,331.0 232.0,324.0 235.0,316.0 238.0,322.0 242.0,336.0 246.0,327.0 250.0,314.0 252.0,304.0 255.0,292.0 258.0,276.0 261.0,270.0 264.0,274.0 266.0,270.0 269.0,256.0 270.0,248.0 274.0,240.0 279.0,236.0 283.0,243.0 288.0,237.0 290.0,234.8 291.0,228.0 291.5,217.5 293.0,198.0 294.3,181.0 296.0,184.0 298.0,193.0 304.0,197.0 309.0,196.4 313.0,202.0 316.0,204.0 322.0,205.0 325.0,197.0 328.0,193.0 332.0,197.0 335.0,208.0 338.0,226.0 340.0,246.0 341.0,266.0 343.0,288.0 345.0,276.0 347.0,244.0 350.0,239.0 354.0,248.0 358.0,266.0 362.0,274.0 364.0,270.0 370.0,276.0 376.0,280.0 380.0,285.0 384.0,287.0 388.0,284.0 392.0,278.0 396.0,273.0 400.0,275.0 406.0,272.0 410.0,269.0 414.0,264.0 416.0,250.0 418.0,242.0 422.0,236.0 426.0,243.0 430.0,236.0 434.0,230.0 438.0,224.0 440.0,218.0 444.0,216.0 447.0,204.0 449.0,198.0 451.0,192.0 455.0,200.0 458.0,205.0 462.0,198.0 466.0,178.0 468.0,158.0 469.0,136.0 470.4,129.0 473.0,134.0 475.6,142.0 478.0,153.0 480.0,158.0 482.0,159.0 484.0,165.0 486.0,172.0 489.0,171.0 492.0,173.0 494.0,175.0" fill="none" stroke="#00ff00" stroke-width="1" shape-rendering="crispEdges" />
<polyline points="3.0,231.0 6.2,235.0 11.0,237.5 60.0,237.8 62.5,238.0 80.0,238.0 82.5,240.0 86.0,242.0 95.0,242.0 97.5,240.6 106.0,240.0 110.0,236.4 116.0,235.0 126.0,233.0 170.0,232.6 174.0,237.0 180.0,239.0 182.0,244.0 194.0,245.0 199.0,247.0 202.0,250.0 260.0,251.0 266.0,260.0 274.0,264.0 277.0,272.0 280.0,278.0 286.0,282.0 294.0,283.0 300.0,290.0 304.0,295.0 307.0,298.0 310.0,303.0 316.0,303.6 352.0,303.6 356.0,307.0 360.0,308.0 370.0,306.0 374.0,299.0 378.0,288.0 381.0,285.0 394.0,285.0 395.0,276.0 398.0,259.0 446.0,258.4 450.0,256.0 456.0,250.0 458.0,247.0 462.0,245.0 498.0,245.0 500.0,247.0 504.0,251.0 536.0,251.4 540.0,257.0 546.0,264.0 550.0,258.0 554.0,242.0 566.0,240.0 569.0,232.0 571.0,224.0 573.0,204.0 574.0,199.0 580.0,198.0 584.0,196.0 592.0,194.4 598.0,193.6" fill="none" stroke="#0000ff" stroke-width="1" shape-rendering="crispEdges" />
<polyline points="3.0,237.5 10.0,237.5 13.8,240.0 18.8,242.0 26.0,242.0 30.0,240.0 38.8,240.0 40.0,237.5 42.5,233.8 46.0,235.0 58.8,235.4 62.5,240.0 67.5,242.0 81.0,242.5 86.0,240.6 91.0,240.0 94.4,236.0 106.0,236.0 110.0,236.0 120.0,232.0 132.5,230.0 138.0,225.0 140.0,223.8 161.0,223.8 163.0,225.0 167.5,228.0 171.0,232.0 176.0,238.0 182.0,244.0 194.0,246.0 198.0,248.0 202.0,254.0 206.0,259.0 226.0,259.0 230.0,265.0 234.0,272.0 238.0,275.0 246.0,274.0 250.0,271.0 258.0,270.0 266.0,274.0 274.0,277.0 276.0,282.0 279.0,291.0 284.0,293.0 290.0,298.0 300.0,299.0 306.0,304.0 310.0,308.0 313.0,319.0 316.0,327.0 318.0,329.6 350.0,329.6 354.0,327.0 358.0,318.0 360.0,312.0 364.0,307.0 370.0,306.0 374.0,303.0 378.0,290.0 380.0,285.0 384.0,281.0 388.0,276.0 392.0,268.0 396.0,250.0 398.0,230.0 400.0,226.0 406.0,220.0 410.0,212.0 418.0,211.0 426.0,204.0 429.0,192.0 432.0,191.0 436.0,196.0 439.0,204.0 442.0,216.0 444.0,230.0 446.0,251.0 466.0,251.4 470.0,254.0 474.0,259.0 478.0,264.0 483.5,272.0 486.0,267.5 488.0,268.0 492.0,272.0 498.0,274.0 508.0,274.5 512.0,273.5 515.0,277.5 518.0,272.0 522.0,264.0 528.0,258.0 534.0,253.0 540.0,249.0 546.0,245.0 548.0,243.0 552.0,234.0 556.0,223.0 558.0,219.0 564.0,217.0 568.0,212.0 570.0,200.0 572.0,186.0 574.0,170.0 578.0,167.0 582.0,163.0 586.0,162.0 589.0,155.0 598.0,154.4" fill="none" stroke="#ff0000" stroke-width="1" shape-rendering="crispEdges" />
<polyline points="3.0,208.8 30.0,210.6 50.0,214.4 75.0,217.5 92.5,220.0 130.0,221.0 170.0,221.0 190.0,222.0 198.0,225.0 210.0,228.0 230.0,231.0 240.0,235.0 250.0,236.5 260.0,238.0 272.0,242.0 280.0,248.0 290.0,258.0 300.0,266.0 310.0,276.0 320.0,287.0 328.0,296.0 336.0,302.0 346.0,307.0 356.0,308.0 364.0,307.0 372.0,305.0 380.0,304.0 392.0,303.0 400.0,298.0 410.0,292.0 420.0,286.0 430.0,280.0 438.0,275.0 460.0,274.4 500.0,274.0 520.0,273.0 532.0,271.0 546.0,267.0 554.0,263.0 562.0,257.0 570.0,250.0 574.0,244.0 580.0,237.0 588.0,232.4 599.0,230.0" fill="none" stroke="#ff0000" stroke-width="2" shape-rendering="crispEdges" stroke-linejoin="round"/>
<g shape-rendering="crispEdges" fill="#c0c0c0">
<rect x="5" y="534" width="2" height="20"/>
<rect x="9" y="534" width="2" height="17"/>
<rect x="13" y="534" width="2" height="15"/>
<rect x="17" y="534" width="2" height="12"/>
<rect x="21" y="534" width="2" height="9"/>
<rect x="25" y="534" width="2" height="6"/>
<rect x="29" y="534" width="2" height="7"/>
<rect x="33" y="534" width="2" height="8"/>
<rect x="37" y="534" width="2" height="8"/>
<rect x="41" y="534" width="2" height="9"/>
<rect x="45" y="534" width="2" height="9"/>
<rect x="49" y="534" width="2" height="9"/>
<rect x="53" y="534" width="2" height="10"/>
<rect x="57" y="534" width="2" height="10"/>
<rect x="61" y="534" width="2" height="10"/>
<rect x="65" y="534" width="2" height="9"/>
<rect x="69" y="534" width="2" height="9"/>
<rect x="73" y="534" width="2" height="9"/>
<rect x="77" y="534" width="2" height="9"/>
<rect x="81" y="534" width="2" height="9"/>
<rect x="85" y="534" width="2" height="9"/>
<rect x="89" y="534" width="2" height="6"/>
<rect x="93" y="534" width="2" height="5"/>
<rect x="97" y="534" width="2" height="4"/>
<rect x="101" y="534" width="2" height="3"/>
<rect x="105" y="534" width="2" height="1"/>
<rect x="109" y="532" width="2" height="3"/>
<rect x="113" y="531" width="2" height="4"/>
<rect x="117" y="530" width="2" height="5"/>
<rect x="121" y="528" width="2" height="7"/>
<rect x="125" y="527" width="2" height="8"/>
<rect x="129" y="526" width="2" height="9"/>
<rect x="133" y="526" width="2" height="9"/>
<rect x="137" y="526" width="2" height="9"/>
<rect x="141" y="526" width="2" height="9"/>
<rect x="145" y="526" width="2" height="9"/>
<rect x="149" y="528" width="2" height="7"/>
<rect x="153" y="528" width="2" height="7"/>
<rect x="157" y="529" width="2" height="6"/>
<rect x="161" y="530" width="2" height="5"/>
<rect x="165" y="532" width="2" height="3"/>
<rect x="169" y="534" width="2" height="1"/>
<rect x="173" y="534" width="2" height="4"/>
<rect x="177" y="534" width="2" height="7"/>
<rect x="181" y="534" width="2" height="11"/>
<rect x="185" y="534" width="2" height="12"/>
<rect x="189" y="534" width="2" height="15"/>
<rect x="193" y="534" width="2" height="14"/>
<rect x="197" y="534" width="2" height="17"/>
<rect x="201" y="534" width="2" height="20"/>
<rect x="205" y="534" width="2" height="22"/>
<rect x="209" y="534" width="2" height="23"/>
<rect x="213" y="534" width="2" height="23"/>
<rect x="217" y="534" width="2" height="22"/>
<rect x="221" y="534" width="2" height="22"/>
<rect x="225" y="534" width="2" height="21"/>
<rect x="229" y="534" width="2" height="20"/>
<rect x="233" y="534" width="2" height="19"/>
<rect x="237" y="534" width="2" height="18"/>
<rect x="241" y="534" width="2" height="17"/>
<rect x="245" y="534" width="2" height="16"/>
<rect x="249" y="534" width="2" height="16"/>
<rect x="253" y="534" width="2" height="15"/>
<rect x="257" y="534" width="2" height="15"/>
<rect x="261" y="534" width="2" height="16"/>
<rect x="265" y="534" width="2" height="17"/>
<rect x="269" y="534" width="2" height="18"/>
<rect x="273" y="534" width="2" height="19"/>
<rect x="277" y="534" width="2" height="22"/>
<rect x="281" y="534" width="2" height="26"/>
<rect x="285" y="534" width="2" height="28"/>
<rect x="289" y="534" width="2" height="29"/>
<rect x="293" y="534" width="2" height="30"/>
<rect x="297" y="534" width="2" height="31"/>
<rect x="301" y="534" width="2" height="30"/>
<rect x="305" y="534" width="2" height="32"/>
<rect x="309" y="534" width="2" height="35"/>
<rect x="313" y="534" width="2" height="36"/>
<rect x="317" y="534" width="2" height="37"/>
<rect x="321" y="534" width="2" height="37"/>
<rect x="325" y="534" width="2" height="35"/>
<rect x="329" y="534" width="2" height="34"/>
<rect x="333" y="534" width="2" height="32"/>
<rect x="337" y="534" width="2" height="28"/>
<rect x="341" y="534" width="2" height="26"/>
<rect x="345" y="534" width="2" height="26"/>
<rect x="349" y="534" width="2" height="24"/>
<rect x="353" y="534" width="2" height="20"/>
<rect x="357" y="534" width="2" height="14"/>
<rect x="361" y="534" width="2" height="6"/>
<rect x="365" y="533" width="2" height="2"/>
<rect x="369" y="528" width="2" height="7"/>
<rect x="373" y="520" width="2" height="15"/>
<rect x="377" y="513" width="2" height="22"/>
<rect x="381" y="508" width="2" height="27"/>
<rect x="385" y="505" width="2" height="30"/>
<rect x="389" y="502" width="2" height="33"/>
<rect x="393" y="500" width="2" height="35"/>
<rect x="397" y="490" width="2" height="45"/>
<rect x="401" y="485" width="2" height="50"/>
<rect x="405" y="483" width="2" height="52"/>
<rect x="409" y="481" width="2" height="54"/>
<rect x="413" y="480" width="2" height="55"/>
<rect x="417" y="481" width="2" height="54"/>
<rect x="421" y="483" width="2" height="52"/>
<rect x="425" y="484" width="2" height="51"/>
<rect x="429" y="485" width="2" height="50"/>
<rect x="433" y="486" width="2" height="49"/>
<rect x="437" y="489" width="2" height="46"/>
<rect x="441" y="495" width="2" height="40"/>
<rect x="445" y="510" width="2" height="25"/>
<rect x="449" y="518" width="2" height="17"/>
<rect x="453" y="520" width="2" height="15"/>
<rect x="457" y="524" width="2" height="11"/>
<rect x="461" y="529" width="2" height="6"/>
<rect x="465" y="534" width="2" height="1"/>
<rect x="469" y="534" width="2" height="7"/>
<rect x="473" y="534" width="2" height="10"/>
<rect x="477" y="534" width="2" height="14"/>
<rect x="481" y="534" width="2" height="17"/>
<rect x="485" y="534" width="2" height="18"/>
<rect x="489" y="534" width="2" height="20"/>
<rect x="493" y="534" width="2" height="20"/>
<rect x="497" y="534" width="2" height="19"/>
<rect x="501" y="534" width="2" height="17"/>
<rect x="505" y="534" width="2" height="17"/>
<rect x="509" y="534" width="2" height="16"/>
<rect x="513" y="534" width="2" height="14"/>
<rect x="517" y="534" width="2" height="11"/>
<rect x="521" y="534" width="2" height="6"/>
<rect x="525" y="534" width="2" height="1"/>
<rect x="529" y="532" width="2" height="3"/>
<rect x="533" y="529" width="2" height="6"/>
<rect x="537" y="526" width="2" height="9"/>
<rect x="541" y="523" width="2" height="12"/>
<rect x="545" y="519" width="2" height="16"/>
<rect x="549" y="516" width="2" height="19"/>
<rect x="553" y="511" width="2" height="24"/>
<rect x="557" y="508" width="2" height="27"/>
<rect x="561" y="507" width="2" height="28"/>
<rect x="565" y="505" width="2" height="30"/>
<rect x="569" y="500" width="2" height="35"/>
<rect x="573" y="491" width="2" height="44"/>
<rect x="577" y="485" width="2" height="50"/>
<rect x="581" y="484" width="2" height="51"/>
<rect x="585" y="484" width="2" height="51"/>
<rect x="589" y="486" width="2" height="49"/>
<rect x="593" y="489" width="2" height="46"/>
<rect x="597" y="490" width="2" height="45"/>
</g>
<polyline points="3.0,549.5 15.0,550.5 25.0,548.0 35.0,545.0 45.0,542.5 62.5,542.0 87.5,542.0 100.0,540.0 112.5,537.5 125.0,533.0 137.5,529.5 150.0,527.5 162.0,527.4 170.0,528.6 180.0,532.0 190.0,537.0 200.0,543.0 210.0,549.0 220.0,553.0 230.0,554.6 234.0,555.4 242.0,554.0 250.0,552.6 260.0,551.0 270.0,549.4 276.0,549.4 282.0,551.4 290.0,554.0 300.0,558.0 306.0,561.0 312.0,564.0 320.0,566.6 328.0,567.6 336.0,567.4 344.0,566.0 352.0,563.6 360.0,559.6 368.0,552.0 376.0,543.0 384.0,531.0 392.0,519.0 400.0,509.0 408.0,499.0 416.0,492.0 424.0,487.0 432.0,484.0 438.0,483.6 444.0,485.6 450.0,491.0 454.0,497.0 458.0,502.0 466.0,514.0 474.0,526.0 482.0,535.0 490.0,542.0 498.0,547.0 507.0,550.4 518.0,550.4 526.0,546.0 534.0,542.0 542.0,536.0 550.0,529.0 558.0,522.0 566.0,515.0 574.0,508.0 582.0,500.0 590.0,494.0 598.0,490.6" fill="none" stroke="#ff0000" stroke-width="1" shape-rendering="crispEdges" />
<g font-family="'Liberation Sans', sans-serif" font-size="17px" fill="#fff" clip-path="url(#cm)">
<text x="-1.6" y="278.7" letter-spacing="0.35">(i)</text>
<text x="117.5" y="208.8" letter-spacing="0.20">(iv)</text>
</g>
<g fill="none" stroke="#00ffff" stroke-width="1.6" stroke-linejoin="miter">
<path d="M633.7,124.6 L641.6,133.2 L637.7,133.2 L637.7,146.2 L630.1,146.2 L630.1,133.2 L626,133.2 Z"/>
<path d="M630.1,166.9 L637.7,166.9 L637.7,179.8 L641.6,179.8 L633.7,188.2 L626,179.8 L630.1,179.8 Z"/>
</g>
<rect x="3" y="175" width="744" height="1" fill="#8e96a8" shape-rendering="crispEdges"/>
<line x1="278.4" y1="234.4" x2="614.6" y2="95.9" stroke="#fff" stroke-width="1" shape-rendering="crispEdges"/>
<line x1="278.4" y1="323.7" x2="614.6" y2="185.2" stroke="#fff" stroke-width="1" shape-rendering="crispEdges"/>
<line x1="278.4" y1="412.6" x2="614.6" y2="274.2" stroke="#fff" stroke-width="1" shape-rendering="crispEdges"/>
<g shape-rendering="crispEdges">
<rect x="3" y="27" width="744" height="2" fill="#ff0000"/>
<rect x="3" y="57" width="744" height="2" fill="#ff0000"/>
<rect x="3" y="90" width="744" height="2" fill="#ff0000"/>
<rect x="3" y="122" width="744" height="2" fill="#ff0000"/>
<rect x="3" y="152" width="744" height="2" fill="#ff0000"/>
<rect x="3" y="177" width="744" height="2" fill="#00ffff"/>
<rect x="3" y="199" width="744" height="2" fill="#00ffff"/>
<rect x="3" y="223" width="744" height="2" fill="#00ffff"/>
<rect x="3" y="244" width="744" height="2" fill="#00ffff"/>
<rect x="3" y="265" width="744" height="2" fill="#00ffff"/>
<rect x="3" y="289" width="744" height="2" fill="#00ffff"/>
<rect x="3" y="310" width="744" height="2" fill="#00ffff"/>
<rect x="3" y="343" width="744" height="2" fill="#00ffff"/>
<rect x="3" y="366" width="744" height="2" fill="#00ffff"/>
<rect x="3" y="391" width="744" height="2" fill="#00ffff"/>
<rect x="3" y="417" width="744" height="2" fill="#00ffff"/>
<rect x="3" y="451" width="744" height="2" fill="#00ffff"/>
</g>
<g font-family="'Liberation Sans', sans-serif" font-size="17px" fill="#fff" clip-path="url(#cm)">
<text x="394.0" y="151.7" letter-spacing="0.35">(i)</text>
<text x="553.3" y="93.7" letter-spacing="0.40">(iii)</text>
<text x="667.5" y="53.7" letter-spacing="0.30">(v)</text>
<text x="626.0" y="236.7" letter-spacing="0.20">(iv)</text>
<text x="343.0" y="354.7" letter-spacing="0.30">(v)</text>
<text x="435.5" y="342.0" letter-spacing="0.50">(ii)</text>
</g>
<g fill="#fff" shape-rendering="crispEdges">
<rect x="2" y="2" width="746" height="1"/>
<rect x="2" y="2" width="1" height="581"/>
<rect x="747" y="2" width="1" height="578"/>
<rect x="2" y="469" width="746" height="1"/>
<rect x="2" y="471" width="750" height="1"/>
<rect x="2" y="579" width="750" height="1"/>
<rect x="0" y="470" width="800" height="1" fill="#000"/>
<rect x="748" y="19" width="4" height="1"/>
<rect x="748" y="51" width="4" height="1"/>
<rect x="748" y="83" width="4" height="1"/>
<rect x="748" y="115" width="4" height="1"/>
<rect x="748" y="147" width="4" height="1"/>
<rect x="748" y="180" width="4" height="1"/>
<rect x="748" y="212" width="4" height="1"/>
<rect x="748" y="244" width="4" height="1"/>
<rect x="748" y="276" width="4" height="1"/>
<rect x="748" y="308" width="4" height="1"/>
<rect x="748" y="340" width="4" height="1"/>
<rect x="748" y="373" width="4" height="1"/>
<rect x="748" y="405" width="4" height="1"/>
<rect x="748" y="437" width="4" height="1"/>
<rect x="66" y="580" width="1" height="3"/>
<rect x="130" y="580" width="1" height="3"/>
<rect x="194" y="580" width="1" height="3"/>
<rect x="258" y="580" width="1" height="3"/>
<rect x="322" y="580" width="1" height="3"/>
<rect x="386" y="580" width="1" height="3"/>
<rect x="450" y="580" width="1" height="3"/>
<rect x="514" y="580" width="1" height="3"/>
<rect x="578" y="580" width="1" height="3"/>
</g>
<g font-family="'Liberation Sans', sans-serif" font-size="10px" text-rendering="geometricPrecision" fill="#fff" stroke="#fff" stroke-width="0.2" style="will-change:transform">
<text transform="translate(754.0,23.0) scale(0.890,1)">1.35240</text>
<text transform="translate(754.0,55.0) scale(0.890,1)">1.34685</text>
<text transform="translate(754.0,87.0) scale(0.890,1)">1.34130</text>
<text transform="translate(754.0,119.0) scale(0.890,1)">1.33575</text>
<text transform="translate(754.0,151.0) scale(0.890,1)">1.33020</text>
<text transform="translate(754.0,216.0) scale(0.890,1)">1.31910</text>
<text transform="translate(754.0,280.0) scale(0.890,1)">1.30800</text>
<text transform="translate(754.0,312.0) scale(0.890,1)">1.30245</text>
<text transform="translate(754.0,344.0) scale(0.890,1)">1.29690</text>
<text transform="translate(754.0,377.0) scale(0.890,1)">1.29135</text>
<text transform="translate(754.0,409.0) scale(0.890,1)">1.28580</text>
<text transform="translate(754.0,441.0) scale(0.890,1)">1.28025</text>
<text transform="translate(753.0,480.5) scale(0.890,1)">0.005903</text>
<text transform="translate(753.0,538.0) scale(0.890,1)">0.000000</text>
<text transform="translate(753.0,578.0) scale(0.890,1)">-0.004258</text>
<text transform="translate(7.0,14.0) scale(0.945,1)">GBPUSD,H1</text>
<text transform="translate(6.0,485.0) scale(0.945,1)">MACD(12,26,9) 0.003982 0.004069</text>
<text transform="translate(2.5,593.0) scale(0.915,1)">5 Mar 2019</text>
<text transform="translate(66.5,593.0) scale(0.915,1)">6 Mar 08:00</text>
<text transform="translate(130.5,593.0) scale(0.915,1)">7 Mar 01:00</text>
<text transform="translate(194.5,593.0) scale(0.915,1)">7 Mar 17:00</text>
<text transform="translate(258.5,593.0) scale(0.915,1)">8 Mar 10:00</text>
<text transform="translate(322.5,593.0) scale(0.915,1)">11 Mar 03:00</text>
<text transform="translate(386.5,593.0) scale(0.915,1)">11 Mar 19:00</text>
<text transform="translate(450.5,593.0) scale(0.915,1)">12 Mar 12:00</text>
<text transform="translate(514.5,593.0) scale(0.915,1)">13 Mar 05:00</text>
<text transform="translate(578.5,593.0) scale(0.915,1)">13 Mar 21:00</text>
</g>
<g shape-rendering="crispEdges">
<rect x="750" y="170" width="39" height="11" fill="#8e96a8"/>
</g>
<g font-family="'Liberation Sans', sans-serif" font-size="10px" text-rendering="geometricPrecision" fill="#000" stroke="#000" stroke-width="0.25" style="will-change:transform">
<text transform="translate(754.0,179.0) scale(0.890,1)" fill="#000" stroke="#000">1.32518</text>
</g>
<g shape-rendering="crispEdges">
<rect x="750" y="23" width="39" height="11" fill="#ff0000"/>
<rect x="750" y="53" width="39" height="11" fill="#ff0000"/>
<rect x="750" y="86" width="39" height="11" fill="#ff0000"/>
<rect x="750" y="118" width="39" height="11" fill="#ff0000"/>
<rect x="750" y="148" width="39" height="11" fill="#ff0000"/>
<rect x="750" y="173" width="39" height="11" fill="#00ffff"/>
<rect x="750" y="195" width="39" height="11" fill="#00ffff"/>
<rect x="750" y="219" width="39" height="11" fill="#00ffff"/>
<rect x="750" y="240" width="39" height="11" fill="#00ffff"/>
<rect x="750" y="261" width="39" height="11" fill="#00ffff"/>
<rect x="750" y="285" width="39" height="11" fill="#00ffff"/>
<rect x="750" y="306" width="39" height="11" fill="#00ffff"/>
<rect x="750" y="339" width="39" height="11" fill="#00ffff"/>
<rect x="750" y="362" width="39" height="11" fill="#00ffff"/>
<rect x="750" y="387" width="39" height="11" fill="#00ffff"/>
<rect x="750" y="413" width="39" height="11" fill="#00ffff"/>
<rect x="750" y="447" width="39" height="11" fill="#00ffff"/>
</g>
<g font-family="'Liberation Sans', sans-serif" font-size="10px" text-rendering="geometricPrecision" fill="#000" stroke="#000" stroke-width="0.25" style="will-change:transform">
<text transform="translate(754.0,32.0) scale(0.890,1)" fill="#000" stroke="#000">1.35081</text>
<text transform="translate(754.0,62.0) scale(0.890,1)" fill="#000" stroke="#000">1.34557</text>
<text transform="translate(754.0,95.0) scale(0.890,1)" fill="#000" stroke="#000">1.33996</text>
<text transform="translate(754.0,127.0) scale(0.890,1)" fill="#000" stroke="#000">1.33436</text>
<text transform="translate(754.0,157.0) scale(0.890,1)" fill="#000" stroke="#000">1.32926</text>
<text transform="translate(754.0,182.0) scale(0.890,1)" fill="#000" stroke="#000">1.32488</text>
<text transform="translate(754.0,204.0) scale(0.890,1)" fill="#000" stroke="#000">1.32110</text>
<text transform="translate(754.0,228.0) scale(0.890,1)" fill="#000" stroke="#000">1.31706</text>
<text transform="translate(754.0,249.0) scale(0.890,1)" fill="#000" stroke="#000">1.31336</text>
<text transform="translate(754.0,270.0) scale(0.890,1)" fill="#000" stroke="#000">1.30980</text>
<text transform="translate(754.0,294.0) scale(0.890,1)" fill="#000" stroke="#000">1.30562</text>
<text transform="translate(754.0,315.0) scale(0.890,1)" fill="#000" stroke="#000">1.30189</text>
<text transform="translate(754.0,348.0) scale(0.890,1)" fill="#000" stroke="#000">1.29622</text>
<text transform="translate(754.0,371.0) scale(0.890,1)" fill="#000" stroke="#000">1.29229</text>
<text transform="translate(754.0,396.0) scale(0.890,1)" fill="#000" stroke="#000">1.28807</text>
<text transform="translate(754.0,422.0) scale(0.890,1)" fill="#000" stroke="#000">1.28359</text>
<text transform="translate(754.0,456.0) scale(0.890,1)" fill="#000" stroke="#000">1.27768</text>
</g>
</svg>
</body></html>
